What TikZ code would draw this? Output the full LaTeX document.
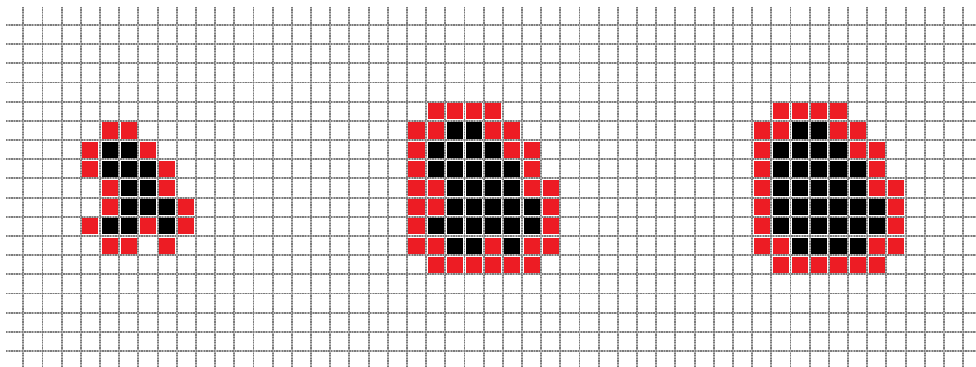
\documentclass[tikz,border=0pt]{standalone}
\usepackage{tikz}
\definecolor{cellred}{HTML}{ED1C24}
\definecolor{gridgray}{HTML}{7C7C7C}
\definecolor{gridlight}{HTML}{B4B4B4}
\tikzset{gridline/.style={gridgray,line width=1.9pt,dash pattern=on 1.3pt off 1.3pt,
  preaction={draw,gridlight,line width=1.9pt}}}
\newcommand{\pix}[3]{\fill[#1] (#2+.08,#3+.08) rectangle (#2+.92,#3+.92);}
\newcommand{\pixrow}[4]{\foreach \c in {#2,...,#3}{\pix{#1}{\c}{#4}}}
\begin{document}
\begin{tikzpicture}[x=19.18pt,y=-19.18pt]
\useasboundingbox (-1.215,-1.303) rectangle (49.67,17.83);
% dashed grid
\foreach \i in {0,...,49}{\draw[gridline] (\i,-.95)--(\i,17.83);}
\foreach \j in {0,...,17}{\draw[gridline] (-.9,\j)--(49.67,\j);}
% left blob
\foreach \c/\r in {4/5,5/5,3/6,6/6,3/7,7/7,4/8,7/8,4/9,8/9,3/10,6/10,8/10,4/11,5/11,7/11}{\pix{cellred}{\c}{\r}}
\foreach \c/\r in {4/6,5/6,4/7,5/7,6/7,5/8,6/8,5/9,6/9,7/9,4/10,5/10,7/10}{\pix{black}{\c}{\r}}
% middle blob
\pixrow{cellred}{21}{24}{4}\pixrow{cellred}{21}{26}{12}
\foreach \c/\r in {20/5,21/5,24/5,25/5,20/6,25/6,26/6,20/7,26/7,20/8,21/8,26/8,27/8,20/9,21/9,27/9,20/10,27/10,20/11,21/11,24/11,26/11,27/11}{\pix{cellred}{\c}{\r}}
\pixrow{black}{22}{23}{5}\pixrow{black}{21}{24}{6}\pixrow{black}{21}{25}{7}\pixrow{black}{22}{25}{8}
\pixrow{black}{22}{26}{9}\pixrow{black}{21}{26}{10}
\foreach \c/\r in {22/11,23/11,25/11}{\pix{black}{\c}{\r}}
% right blob
\pixrow{cellred}{39}{42}{4}\pixrow{cellred}{39}{44}{12}
\foreach \c/\r in {38/5,39/5,42/5,43/5,38/6,43/6,44/6,38/7,44/7,38/8,44/8,45/8,38/9,45/9,38/10,45/10,38/11,39/11,44/11,45/11}{\pix{cellred}{\c}{\r}}
\pixrow{black}{40}{41}{5}\pixrow{black}{39}{42}{6}\pixrow{black}{39}{43}{7}\pixrow{black}{39}{43}{8}
\pixrow{black}{39}{44}{9}\pixrow{black}{39}{44}{10}\pixrow{black}{40}{43}{11}
\end{tikzpicture}
\end{document}
